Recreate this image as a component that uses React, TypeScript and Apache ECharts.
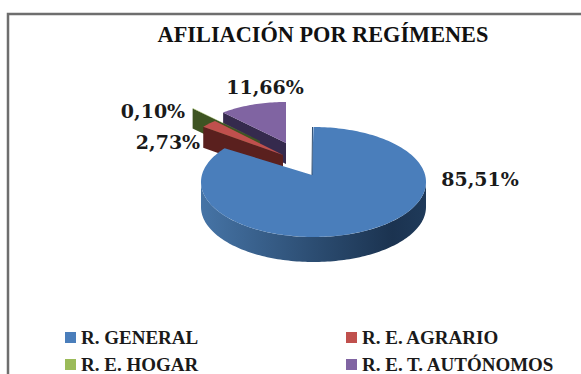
import React, { useEffect, useRef } from "react";
import * as echarts from "echarts";

const categories = ["R. GENERAL", "R. E. AGRARIO", "R. E. HOGAR", "R. E. T. AUTÓNOMOS"];
const shares = [85.51, 2.73, 0.1, 11.66];
const chartTitle = "AFILIACIÓN POR REGÍMENES";

const topColors = ["#4a7ebb", "#c0504d", "#9bbb59", "#8064a2"];
const wallColors = ["#2b4b70", "#5a201e", "#3e5422", "#352a4d"];

// perspective layout of each exploded slice: apex, ellipse centre and radii, depth
const layouts = [
  { ax: 312, ay: 175, cx: 313.5, cy: 182, rx: 112.5, ry: 55, d: 25, z: 4 },
  { ax: 283, ay: 155, cx: 283, cy: 155, rx: 101, ry: 46, d: 21, z: 3 },
  { ax: 260, ay: 141, cx: 260, cy: 141, rx: 100, ry: 44, d: 20, z: 2 },
  { ax: 286, ay: 143, cx: 286, cy: 143, rx: 94, ry: 41, d: 21, z: 1 },
];
const labelSpots = [
  [480, 179],
  [168, 142],
  [153, 111],
  [265, 87],
];
const legendSpots = [
  [65, 328],
  [346, 328],
  [65, 355],
  [346, 355],
];

const fmt = (v: number) => v.toFixed(2).replace(".", ",") + "%";
const total = shares.reduce((a, b) => a + b, 0);

function arc(l: any, from: number, to: number, dy = 0) {
  const pts: number[][] = [];
  const n = Math.max(2, Math.ceil(Math.abs(to - from) * 40));
  for (let k = 0; k <= n; k++) {
    const t = from + ((to - from) * k) / n;
    pts.push([l.cx + l.rx * Math.sin(t), l.cy - l.ry * Math.cos(t) + dy]);
  }
  return pts;
}

function makeItem(i: number) {
  return (_p: any, api: any) => {
    const v = api.value(0);
    const before = shares.slice(0, i).reduce((a, b) => a + b, 0);
    const a0 = (before / total) * 2 * Math.PI;
    const a1 = a0 + (v / total) * 2 * Math.PI;
    const l = layouts[i];
    const children: any[] = [];
    if (i === 0) {
      // outer rim with horizontal shading
      const rimTop = arc(l, Math.PI / 2, (3 * Math.PI) / 2);
      const rimBottom = arc(l, (3 * Math.PI) / 2, Math.PI / 2, l.d);
      children.push({
        type: "polygon",
        shape: { points: [...rimTop, ...rimBottom] },
        style: {
          fill: new echarts.graphic.LinearGradient(0, 0, 1, 0, [
            { offset: 0, color: "#4674a6" },
            { offset: 0.5, color: "#2c4d72" },
            { offset: 0.85, color: "#1b3350" },
            { offset: 1, color: "#1f3a5a" },
          ]),
        },
      });
    } else {
      // radial cut face turned towards the viewer
      const o = [l.cx + l.rx * Math.sin(a0), l.cy - l.ry * Math.cos(a0)];
      children.push({
        type: "polygon",
        shape: { points: [[l.ax, l.ay], o, [o[0], o[1] + l.d], [l.ax, l.ay + l.d]] },
        style: { fill: wallColors[i] },
      });
    }
    children.push({
      type: "polygon",
      shape: { points: [[l.ax, l.ay], ...arc(l, a0, a1)] },
      style: { fill: topColors[i] },
    });
    if (i === 0) {
      const top = arc(l, 0, 0.001)[0];
      children.push({
        type: "line",
        shape: { x1: l.ax, y1: l.ay, x2: top[0] - 1, y2: top[1] },
        style: { stroke: "#2b4b70", lineWidth: 1 },
      });
    }
    children.push({
      type: "text",
      x: labelSpots[i][0],
      y: labelSpots[i][1],
      z2: 10,
      style: {
        text: fmt(v),
        fill: "#1a1a1a",
        font: 'bold 19px "DejaVu Serif"',
        align: "center",
        verticalAlign: "middle",
      },
    });
    return { type: "group", children };
  };
}

export default function App() {
  const ref = useRef<HTMLDivElement>(null);
  useEffect(() => {
    document.body.style.margin = "0";
    const chart = echarts.init(ref.current!, undefined, { renderer: "svg" });
    chart.setOption({
      animation: false,
      title: {
        text: chartTitle,
        left: 323,
        top: 23,
        textAlign: "center",
        padding: 0,
        textStyle: {
          fontFamily: "Liberation Serif",
          fontWeight: "bold",
          fontSize: 22.3,
          color: "#111111",
        },
      },
      legend: categories.map((name, i) => ({
        left: legendSpots[i][0],
        top: legendSpots[i][1],
        icon: "rect",
        itemWidth: 11,
        itemHeight: 11,
        itemStyle: { borderWidth: 0 },
        selectedMode: false,
        padding: 0,
        data: [name],
        textStyle: {
          fontFamily: "Liberation Serif",
          fontWeight: "bold",
          fontSize: 19,
          color: "#1a1a1a",
        },
      })),
      graphic: [
        {
          type: "rect",
          silent: true,
          shape: { x: 8, y: 14, width: 800, height: 600 },
          style: { fill: "none", stroke: "#6e6e6e", lineWidth: 2.5 },
        },
      ],
      series: categories.map((name, i) => ({
        type: "custom",
        name,
        coordinateSystem: "none",
        silent: true,
        z: layouts[i].z + 2,
        itemStyle: { color: topColors[i] },
        data: [[shares[i]]],
        renderItem: makeItem(i),
      })),
    });
    return () => chart.dispose();
  }, []);
  return <div ref={ref} style={{ width: 581, height: 374 }} />;
}
